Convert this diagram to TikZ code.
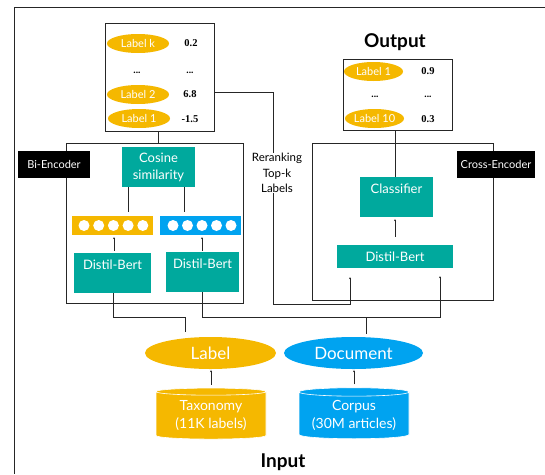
\documentclass[tikz,border=0pt]{standalone}
\usepackage{fontspec}
\setmainfont{Lato}
\newfontfamily\numfont{Liberation Serif}
\usetikzlibrary{shapes.geometric,arrows.meta,calc}
\definecolor{cyel}{HTML}{F5B800}
\definecolor{cblu}{HTML}{00A3F0}
\definecolor{cteal}{HTML}{00A99D}
\tikzset{
  conn/.style={draw=black!85, line width=0.8pt},
  tip/.style={-{Stealth[length=2pt,width=2pt]}},
  tealbox/.style={fill=cteal, text=white, inner sep=0pt, font=\fontsize{13}{17}\selectfont, align=center},
  frame/.style={draw=black!85, line width=0.9pt, inner sep=0pt},
  tagbox/.style={fill=black, text=white, inner sep=0pt, minimum width=#1, minimum height=27pt, font=\fontsize{11}{12}\selectfont},
  lbl/.style={ellipse, fill=cyel, text=white, inner sep=0pt, minimum width=#1, minimum height=19pt, font=\fontsize{11}{12}\selectfont},
  score/.style={font=\numfont\bfseries\fontsize{10.5}{12}\selectfont, inner sep=0pt},
  dots/.style={font=\bfseries\fontsize{10}{12}\selectfont, inner sep=0pt},
  bigell/.style={ellipse, fill=#1, text=white, inner sep=0pt, minimum height=32pt, font=\fontsize{17}{18}\selectfont},
  cyl/.style={cylinder, shape border rotate=90, aspect=0.1, fill=#1, draw=white, line width=0.6pt, text=white, inner sep=0pt, minimum width=110pt, minimum height=51pt, align=center, font=\fontsize{14}{18}\selectfont},
  vec/.style={fill=#1, inner sep=0pt, minimum width=81pt, minimum height=19pt},
  title/.style={font=\bfseries\fontsize{19}{22}\selectfont, inner sep=0pt}
}
\begin{document}
\begin{tikzpicture}[x=1pt,y=-1pt]
\useasboundingbox (0,0) rectangle (545,474);
% outer frame
\draw[conn] (545,7) -- (14,7) -- (14,474);

% top-left score box
\node[frame, draw, minimum width=109pt, minimum height=108pt] (sc1) at (159.5,77) {};
\node[lbl=62pt] (lk) at (138,43.5) {Label k};
\node[lbl=62pt] (l2) at (138,94.5) {Label 2};
\node[lbl=62pt] (l1) at (139,118.5) {Label 1};
\node[score] (s1) at (191,43) {0.2};
\node[dots] (d1) at (137,73) {...};
\node[dots] (d2) at (190,73) {...};
\node[score] (s2) at (190,94) {6.8};
\node[score] (s3) at (190,119) {-1.5};

% output box
\node[title] (out) at (395,42) {Output};
\node[frame, draw, minimum width=109pt, minimum height=71pt] (sc2) at (397.5,94.5) {};
\node[lbl=59pt] (o1) at (373.5,71.5) {Label 1};
\node[lbl=59pt] (o10) at (374.5,118.5) {Label 10};
\node[score] (s4) at (428,71) {0.9};
\node[dots] (d3) at (375,97) {...};
\node[dots] (d4) at (428,97) {...};
\node[score] (s5) at (428,119) {0.3};

% bi-encoder
\node[frame, draw, minimum width=177pt, minimum height=160pt] (bienc) at (154.5,223) {};
\node[tagbox=72pt] (bitag) at (54,164.5) {Bi-Encoder};
\node[tealbox, minimum width=73pt, minimum height=40pt] (cos) at (158.5,167) {Cosine\\similarity};
\node[vec=cyel] (vy) at (112.5,225.5) {};
\node[vec=cblu] (vb) at (200.5,225.5) {};
\foreach \i in {0,...,4} {
  \fill[white] (84+14.7*\i,225.5) circle (5.5);
  \fill[white] (173+14.5*\i,225.5) circle (5.5);
}
\node[tealbox, minimum width=77pt, minimum height=40pt] (db1) at (112.5,273) {Distil-Bert\\~};
\node[tealbox, minimum width=73pt, minimum height=40pt] (db2) at (202.5,272) {Distil-Bert\\~};

% cross-encoder
\node[frame, draw, minimum width=181pt, minimum height=157pt] (cross) at (402.5,221.5) {};
\node[tagbox=78pt] (crtag) at (496,164.5) {Cross-Encoder};
\node[tealbox, minimum width=73pt, minimum height=40pt] (cls) at (396.5,197) {Classifier\\~};
\node[tealbox, minimum width=116pt, minimum height=23pt] (db3) at (395,256.5) {Distil-Bert};

% reranking
\node[align=center, inner sep=0pt, font=\fontsize{11.5}{15.5}\selectfont] (rr) at (277,173) {Reranking\\Top-k\\Labels};

% inputs
\node[bigell=cyel, minimum width=131pt] (lab) at (210.5,353) {Label};
\node[bigell=cblu, minimum width=139pt] (doc) at (353.5,353) {Document};
\node[cyl=cyel] (tax) at (211,415.5) {Taxonomy\\(11K labels)};
\node[cyl=cblu] (cor) at (354,415.5) {Corpus\\(30M articles)};
\node[title] (inp) at (283,462) {Input};

% connectors
\draw[conn] (sc1.south -| 158,0) -- (bienc.north -| 158,0);
\draw[conn, shorten >=4pt] (cos.south -| 128,0) -- (vy.north -| 128,0);
\draw[conn, shorten >=4pt] (cos.south -| 184,0) -- (vb.north -| 184,0);
\draw[conn, tip, shorten <=2pt, shorten >=2pt] (db1.north -| 114,0) -- (vy.south -| 114,0);
\draw[conn, tip, shorten <=1pt, shorten >=2pt] (db2.north -| 202,0) -- (vb.south -| 202,0);
\draw[conn] (sc2.south -| 395,0) -- (cls.north -| 395,0);
\draw[conn, tip, shorten <=8pt, shorten >=2pt] (db3.north -| 395,0) -- (cls.south -| 395,0);
\draw[conn] (sc1.east |- 0,92) -| (rr.north -| 273,0);
\draw[conn, tip] (rr.south -| 273,0) -- (273,304) -| ([yshift=-9pt]db3.south -| 350,0);
\draw[conn] (db1.south -| 113,0) -- (113,317) -| ([yshift=5pt]lab.north -| 185,0);
\draw[conn, tip] (db2.south -| 202,0) -- (202,317) -| ([yshift=-8pt]db3.south -| 440,0);
\draw[conn] ([yshift=3pt]doc.north -| 366,0) -- (366,317);
\draw[conn, tip, shorten <=3pt, shorten >=1pt] (tax.north -| 211,0) -- (lab.south -| 211,0);
\draw[conn, tip, shorten <=3pt, shorten >=1pt] (cor.north -| 354,0) -- (doc.south -| 354,0);
\end{tikzpicture}
\end{document}
